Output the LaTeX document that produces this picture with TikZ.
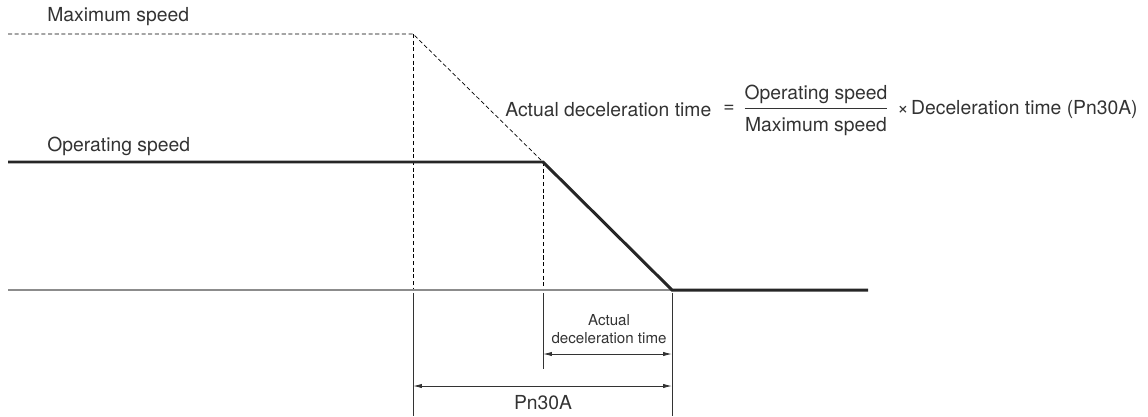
\documentclass[tikz,border=0pt]{standalone}
\usepackage{fontspec}
\setmainfont{TeX Gyre Heros}
\usetikzlibrary{arrows.meta,positioning}
\definecolor{txtgray}{HTML}{333333}
\definecolor{axisgray}{HTML}{8C8C8C}

\tikzset{
  lbl/.style={text=txtgray,font=\fontsize{11}{13}\selectfont,inner sep=0pt},
  small/.style={text=txtgray,font=\fontsize{8.6}{10.6}\selectfont,inner sep=0pt,align=center},
  guide/.style={line width=0.4pt,dash pattern=on 2.3pt off 1.5pt},
  axis/.style={line width=0.8pt,axisgray},
  speed/.style={line width=1.7pt,black!85},
  dim/.style={line width=0.5pt,black!80},
  dimarrow/.style={dim,{Latex[length=5pt,width=2.4pt]}-{Latex[length=5pt,width=2.4pt]}}
}

\begin{document}
\begin{tikzpicture}[x=0.02cm,y=-0.02cm]
    \useasboundingbox (0,0) rectangle (1148,416);
    %% speed profile
    \coordinate (maxL) at (8,34);
    \coordinate (tA) at (413,34);
    \coordinate (opL) at (8,162);
    \coordinate (tB) at (543,162);
    \coordinate (tC) at (672,290);
    \coordinate (zeroL) at (8,290);
    \coordinate (zeroR) at (868,290);
    \draw[guide] (maxL) -- (tA) -- (tB);
    \draw[guide] (tA) -- (tA |- zeroL);
    \draw[guide] (tB) -- (tB |- zeroL);
    \draw[axis] (zeroL) -- (tC);
    \draw[speed] (opL) -- (tB) -- (tC) -- (zeroR);
    \node[lbl,anchor=west] (maxlbl) at (47,17) {Maximum speed};
    \node[lbl,anchor=west] (oplbl) at (47,146) {Operating speed};
    %% extension lines
    \coordinate (extA) at (413,293);
    \coordinate (extB) at (543,293);
    \coordinate (extC) at (672,293);
    \coordinate (endA) at (413,416);
    \coordinate (endB) at (543,369);
    \coordinate (endC) at (672,416);
    \draw[dim] (extA) -- (endA);
    \draw[dim] (extB) -- (endB);
    \draw[dim] (extC) -- (endC);
    %% dimensions
    \draw[dimarrow] (543,354) coordinate (actL) -- (672,354) coordinate (actR);
    \node[small] (actlbl) at (609,329) {Actual\\deceleration time};
    \draw[dimarrow] (413,386) coordinate (pnL) -- (672,386) coordinate (pnR);
    \node[lbl] (pnlbl) at (543,403) {Pn30A};
    %% formula
    \node[lbl,anchor=west] (lhs) at (505,110) {Actual deceleration time};
    \node[lbl] (eq) at (729,109) {=};
    \node[lbl,anchor=base] (ratio) at (816,113) {$\displaystyle\frac{\mbox{Operating speed}}{\rule{0pt}{12pt}\mbox{Maximum speed}}$};
    \node[lbl] (times) at (903,110) {×};
    \node[lbl,anchor=east] (rhs) at (1138,110) {Deceleration time (Pn30A)};
\end{tikzpicture}
\end{document}
